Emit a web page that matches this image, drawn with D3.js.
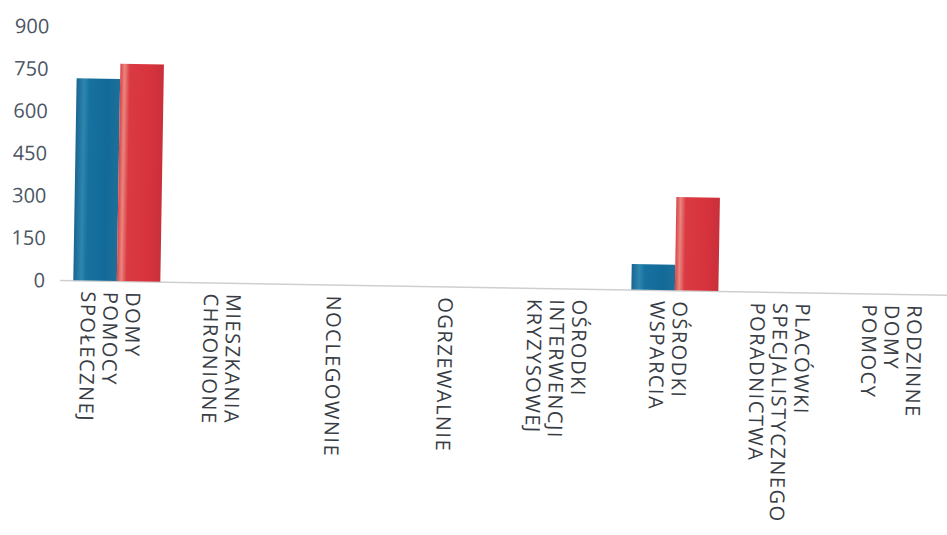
<!DOCTYPE html>
<html><head><meta charset="utf-8">
<script src="https://cdn.jsdelivr.net/npm/d3@7"></script>
<style>html,body{margin:0;padding:0;background:#fff;}svg{display:block;}
.cat{font-family:"Open Sans",sans-serif;font-size:20px;letter-spacing:1.5px;fill:#383c44;}
.tick text{font-family:"Open Sans",sans-serif;font-size:20px;fill:#4b5563;}
</style>
</head><body>
<svg id="chart" width="947" height="535"></svg>
<script>
const categories = [
  ["DOMY","POMOCY","SPOŁECZNEJ"],
  ["MIESZKANIA","CHRONIONE"],
  ["NOCLEGOWNIE"],
  ["OGRZEWALNIE"],
  ["OŚRODKI","INTERWENCJI","KRYZYSOWEJ"],
  ["OŚRODKI","WSPARCIA"],
  ["PLACÓWKI","SPECJALISTYCZNEGO","PORADNICTWA"],
  ["RODZINNE","DOMY","POMOCY"]
];
const seriesBlue = [716, 0, 0, 0, 0, 90, 0, 0];
const seriesRed  = [770, 0, 0, 0, 0, 330, 0, 0];
const yTicks = [0, 150, 300, 450, 600, 750, 900];

const svg = d3.select("#chart");
// the scanned original is tilted by about one degree
const root = svg.append("g").attr("transform", "rotate(0.95,60,280)");
const keys = categories.map(c => c.join(" "));
const x0 = d3.scaleBand().domain(keys).range([61, 954]).paddingInner(0.22).paddingOuter(0.11);
const x1 = d3.scaleBand().domain(["blue","red"]).range([0, x0.bandwidth()]);
const y = d3.scaleLinear().domain([0, 900]).range([280, 26]);

const defs = svg.append("defs");
const gb = defs.append("linearGradient").attr("id","gBlue");
[["0%","#1a6592"],["18%","#2d86ad"],["30%","#17719f"],["70%","#126a99"],["100%","#1d6f97"]].forEach(s=>gb.append("stop").attr("offset",s[0]).attr("stop-color",s[1]));
const gr = defs.append("linearGradient").attr("id","gRed");
[["0%","#d9414a"],["10%","#e9867c"],["22%","#da3a43"],["70%","#d7333d"],["100%","#c9303b"]].forEach(s=>gr.append("stop").attr("offset",s[0]).attr("stop-color",s[1]));

// baseline
root.append("line").attr("x1",60).attr("x2",960).attr("y1",y(0)+0.5).attr("y2",y(0)+0.5)
  .attr("stroke","#cfcfcf").attr("stroke-width",1.5);

// y axis
const yAxis = d3.axisLeft(y).tickValues(yTicks).tickSize(0).tickPadding(0);
const ga = root.append("g").attr("transform","translate(45,0)").call(yAxis);
ga.select(".domain").remove();
ga.attr("font-family", null).attr("font-size", null);
ga.selectAll("text").attr("fill", null).attr("dy","0.36em");

// bars
const groups = root.append("g").selectAll("g").data(keys).join("g")
  .attr("transform", d => `translate(${x0(d)},0)`);
groups.append("rect")
  .attr("x", x1("blue")).attr("width", x1.bandwidth())
  .attr("y", (d,i) => y(seriesBlue[i])).attr("height", (d,i) => y(0) - y(seriesBlue[i]))
  .attr("fill","url(#gBlue)");
groups.append("rect")
  .attr("x", x1("red")).attr("width", x1.bandwidth())
  .attr("y", (d,i) => y(seriesRed[i])).attr("height", (d,i) => y(0) - y(seriesRed[i]))
  .attr("fill","url(#gRed)");

// category labels (rotated)
const lineH = 22.5, cap = 14;
categories.forEach((lines, i) => {
  const c = x0(keys[i]) + x0.bandwidth()/2;
  const b1 = c - 6 - cap/2 + (lines.length - 1) * lineH / 2;
  const t = root.append("text").attr("class","cat")
    .attr("transform", `translate(${b1},291) rotate(90)`);
  lines.forEach((ln, j) => {
    t.append("tspan").attr("x",0).attr("dy", j === 0 ? 0 : lineH).text(ln);
  });
});
</script>
</body></html>
